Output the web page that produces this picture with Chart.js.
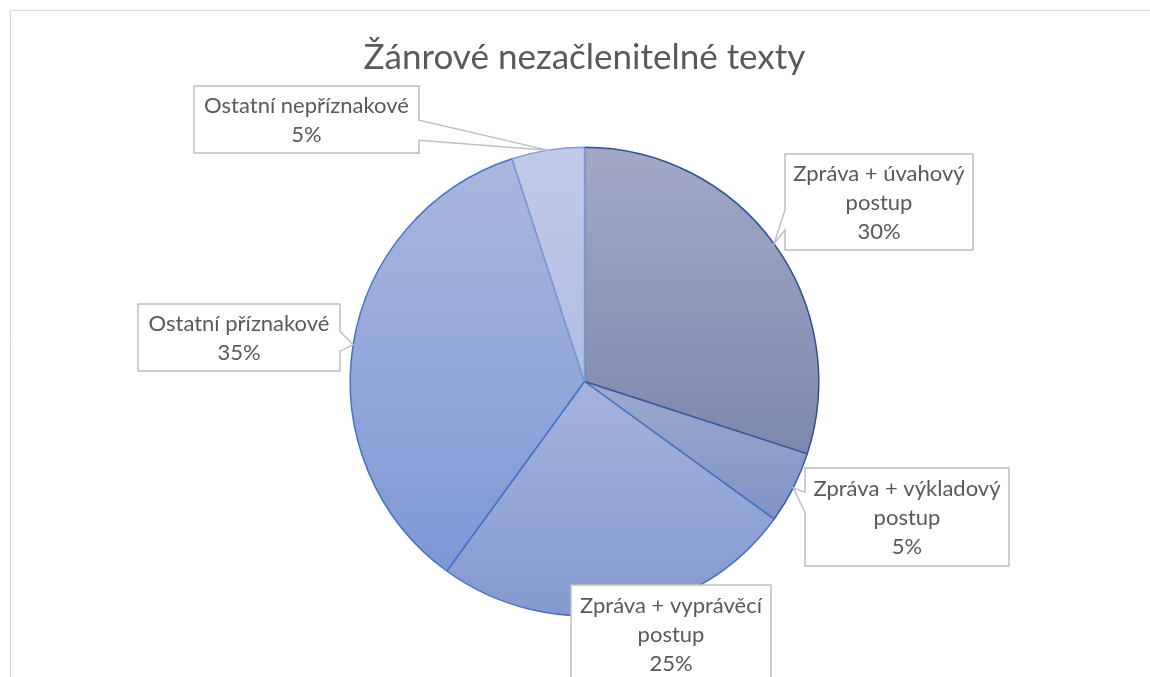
<!DOCTYPE html>
<html>
<head>
<meta charset="utf-8">
<title>Žánrové nezačlenitelné texty</title>
<script src="https://cdn.jsdelivr.net/npm/chart.js@4.4.0/dist/chart.umd.min.js"></script>
<style>
  html, body { margin: 0; padding: 0; background: #fff; }
  canvas { display: block; }
</style>
</head>
<body>
<canvas id="pieChart" width="1150" height="677"></canvas>
<script>
const chartTitle = 'Žánrové nezačlenitelné texty';
const categories = [
    'Zpráva + úvahový postup',
    'Zpráva + výkladový postup',
    'Zpráva + vyprávěcí postup',
    'Ostatní příznakové',
    'Ostatní nepříznakové'
];
const shares = [30, 5, 25, 35, 5];

// vertical gradient per slice: [top, bottom]
const sliceGradients = [
    ['#a1a9c6', '#7c88ad'],
    ['#9ca9ce', '#8093c7'],
    ['#a5b3dd', '#8499d1'],
    ['#aab7e0', '#7e98d5'],
    ['#c1cae8', '#b0bde3']
];
const sliceBorders = ['#2f528f', '#35599f', '#4472c4', '#4472c4', '#7f9bd3'];

// callout boxes (moved by hand in the original, so they are placed by hand here)
const labelBoxes = [
    { x: 785, y: 154, w: 188, h: 96 },
    { x: 805, y: 468, w: 204, h: 98 },
    { x: 571, y: 585, w: 200, h: 98 },
    { x: 138, y: 304, w: 202, h: 67 },
    { x: 194, y: 86, w: 225, h: 67 }
];

const FONT = 'Lato, "Open Sans", sans-serif';
const LABEL_FONT = '22px ' + FONT;
const LABEL_LINE = 29;
const TEXT_COLOR = '#595959';

const total = shares.reduce((a, b) => a + b, 0);

function sliceFill(context) {
    const chart = context.chart;
    const area = chart.chartArea;
    const i = context.dataIndex;
    if (!area || i === undefined) return sliceGradients[0][0];

    const cx = (area.left + area.right) / 2;
    const cy = (area.top + area.bottom) / 2;
    const r = Math.min(area.width, area.height) / 2;
    const before = shares.slice(0, i).reduce((a, b) => a + b, 0);
    const a0 = -Math.PI / 2 + before / total * Math.PI * 2;
    const a1 = a0 + shares[i] / total * Math.PI * 2;

    const ys = [cy, cy + Math.sin(a0) * r, cy + Math.sin(a1) * r];
    [-Math.PI / 2, Math.PI / 2, Math.PI * 1.5].forEach(a => {
        if (a >= a0 && a <= a1) ys.push(cy + Math.sin(a) * r);
    });
    const top = Math.min(...ys);
    const bottom = Math.max(...ys);

    const gradient = chart.ctx.createLinearGradient(0, top, 0, bottom);
    gradient.addColorStop(0, sliceGradients[i][0]);
    gradient.addColorStop(1, sliceGradients[i][1]);
    return gradient;
}

function wrapText(ctx, text, maxWidth) {
    const words = text.split(' ');
    const lines = [];
    let line = '';
    words.forEach(word => {
        const test = line ? line + ' ' + word : word;
        if (line && ctx.measureText(test).width > maxWidth) {
            lines.push(line);
            line = word;
        } else {
            line = test;
        }
    });
    if (line) lines.push(line);
    return lines;
}

function baseCenter(lo, hi, t) {
    const c = Math.min(Math.max(t, lo + 12), hi - 12);
    return (c + (lo + hi) / 2) / 2;
}

function drawCallout(ctx, b, tip) {
    const L = b.x, T = b.y, R = b.x + b.w, B = b.y + b.h;
    const half = 10;
    const corners = [[L, T], [R, T], [R, B], [L, B]];
    let wedge = null;

    if (tip.x < L) {
        const c = baseCenter(T, B, tip.y);
        wedge = { after: 3, a: [L, c + half], b: [L, c - half] };
    } else if (tip.x > R) {
        const c = baseCenter(T, B, tip.y);
        wedge = { after: 1, a: [R, c - half], b: [R, c + half] };
    } else if (tip.y > B) {
        const c = baseCenter(L, R, tip.x);
        wedge = { after: 2, a: [c + half, B], b: [c - half, B] };
    } else if (tip.y < T) {
        const c = baseCenter(L, R, tip.x);
        wedge = { after: 0, a: [c - half, T], b: [c + half, T] };
    }

    ctx.beginPath();
    corners.forEach((pt, k) => {
        if (k === 0) ctx.moveTo(pt[0], pt[1]);
        else ctx.lineTo(pt[0], pt[1]);
        if (wedge && wedge.after === k) {
            ctx.lineTo(wedge.a[0], wedge.a[1]);
            ctx.lineTo(tip.x, tip.y);
            ctx.lineTo(wedge.b[0], wedge.b[1]);
        }
    });
    ctx.closePath();
    ctx.fillStyle = '#ffffff';
    ctx.fill();
    ctx.lineWidth = 1.5;
    ctx.strokeStyle = '#bfbfbf';
    ctx.stroke();
}

const frameLines = {
    id: 'frameLines',
    beforeDraw(chart) {
        const ctx = chart.ctx;
        ctx.save();
        ctx.strokeStyle = '#d9d9d9';
        ctx.lineWidth = 1;
        ctx.beginPath();
        ctx.moveTo(10.5, chart.height);
        ctx.lineTo(10.5, 10.5);
        ctx.lineTo(chart.width, 10.5);
        ctx.stroke();
        ctx.restore();
    }
};

const calloutLabels = {
    id: 'calloutLabels',
    afterDatasetsDraw(chart) {
        const ctx = chart.ctx;
        const meta = chart.getDatasetMeta(0);
        ctx.save();
        meta.data.forEach((arc, i) => {
            const p = arc.getProps(['x', 'y', 'startAngle', 'endAngle', 'outerRadius'], true);
            const mid = (p.startAngle + p.endAngle) / 2;
            const tip = {
                x: p.x + Math.cos(mid) * p.outerRadius,
                y: p.y + Math.sin(mid) * p.outerRadius
            };
            const box = labelBoxes[i];

            drawCallout(ctx, box, tip);

            ctx.font = LABEL_FONT;
            const lines = wrapText(ctx, categories[i], box.w - 14);
            lines.push(Math.round(shares[i] / total * 100) + '%');

            ctx.fillStyle = TEXT_COLOR;
            ctx.textAlign = 'center';
            ctx.textBaseline = 'middle';
            const startY = box.y + (box.h - lines.length * LABEL_LINE) / 2;
            lines.forEach((line, k) => {
                ctx.fillText(line, box.x + box.w / 2, startY + LABEL_LINE * (k + 0.5) + 1);
            });
        });
        ctx.restore();
    }
};

new Chart(document.getElementById('pieChart'), {
    type: 'pie',
    data: {
        labels: categories,
        datasets: [{
            data: shares,
            backgroundColor: sliceFill,
            borderColor: sliceBorders,
            borderWidth: 1.5,
            hoverOffset: 0
        }]
    },
    options: {
        responsive: false,
        animation: false,
        events: [],
        layout: {
            padding: { top: 36.5, left: 40, right: 21, bottom: 60.5 }
        },
        plugins: {
            legend: { display: false },
            tooltip: { enabled: false },
            title: {
                display: true,
                text: chartTitle,
                color: TEXT_COLOR,
                font: { family: FONT, size: 35, weight: 'normal' },
                padding: { top: 0, bottom: 68 }
            }
        }
    },
    plugins: [frameLines, calloutLabels]
});
</script>
</body>
</html>
